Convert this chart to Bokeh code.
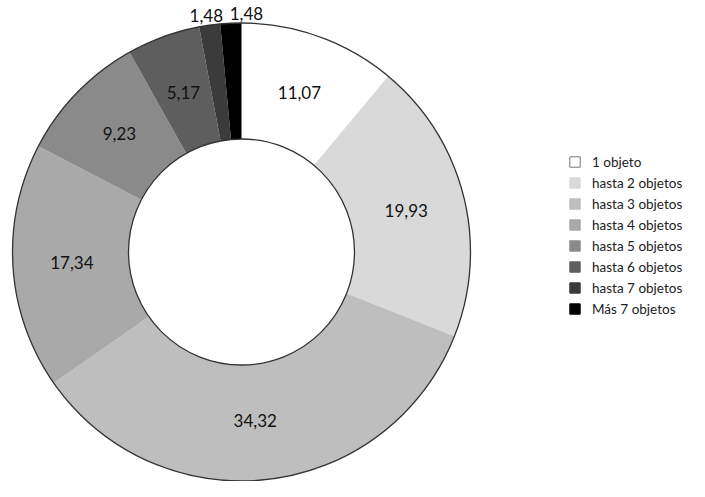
import math
from bokeh.plotting import figure
from bokeh.models import Range1d, Legend, LegendItem, ColumnDataSource
from bokeh.core.properties import value
from bokeh.embed import file_html
from bokeh.resources import INLINE

categories = ["1 objeto", "hasta 2 objetos", "hasta 3 objetos", "hasta 4 objetos",
              "hasta 5 objetos", "hasta 6 objetos", "hasta 7 objetos", "Más 7 objetos"]
values = [11.07, 19.93, 34.32, 17.34, 9.23, 5.17, 1.48, 1.48]
labels = ["11,07", "19,93", "34,32", "17,34", "9,23", "5,17", "1,48", "1,48"]

colors = ["#ffffff", "#d9d9d9", "#bebebe", "#a9a9a9", "#8a8a8a", "#5e5e5e", "#3b3b3b", "#000000"]
label_outside = [False, False, False, False, False, False, True, True]
label_dx = [0, 0, -6, 0, 0, 0, -2, 16]

FONT = "Lato"

W, H = 689, 481
CX, CY = 241, 229.5
R_OUT, R_IN = 229, 113
R_LAB, R_LAB_OUT = 170, 239

total = sum(values)
starts, ends, lx, ly = [], [], [], []
cum = 0.0
for v, out, dx in zip(values, label_outside, label_dx):
    a0 = math.pi / 2 - 2 * math.pi * cum / total
    a1 = math.pi / 2 - 2 * math.pi * (cum + v) / total
    starts.append(a1)
    ends.append(a0)
    mid = (a0 + a1) / 2
    r = R_LAB_OUT if out else R_LAB
    lx.append(CX + r * math.cos(mid) + dx)
    ly.append(CY + r * math.sin(mid))
    cum += v

p = figure(width=W, height=H, output_backend="svg", toolbar_location=None,
           x_range=Range1d(0, W), y_range=Range1d(0, H), min_border=0)
p.axis.visible = False
p.grid.visible = False
p.outline_line_color = None

src = ColumnDataSource(dict(start=starts, end=ends, color=colors, cat=categories))
p.annular_wedge(x=CX, y=CY, inner_radius=R_IN, outer_radius=R_OUT,
                start_angle="start", end_angle="end", fill_color="color",
                line_color=None, source=src)
p.circle(x=[CX], y=[CY], radius=R_OUT, fill_color=None, line_color="#333333", line_width=1.3)
p.circle(x=[CX], y=[CY], radius=R_IN, fill_color=None, line_color="#333333", line_width=1.3)

p.text(x=lx, y=ly, text=labels, text_align="center", text_baseline="middle",
       text_font=value(FONT), text_font_size="17px", text_color="#111111")

nan = float("nan")
items = []
for c, col in zip(categories, colors):
    r = p.quad(left=[nan], right=[nan], top=[nan], bottom=[nan], fill_color=col,
               line_color="#777777" if col == "#ffffff" else col, line_width=1)
    items.append(LegendItem(label=c, renderers=[r]))

legend = Legend(items=items, location=(568, 163), orientation="vertical",
                glyph_width=13, glyph_height=13, label_height=19, spacing=2,
                label_standoff=11, padding=0, margin=0,
                label_text_font=FONT, label_text_font_size="13.5px",
                label_text_color="#222222", border_line_color=None,
                background_fill_alpha=0)
p.add_layout(legend)

open("out.html", "w").write(file_html(p, INLINE))
